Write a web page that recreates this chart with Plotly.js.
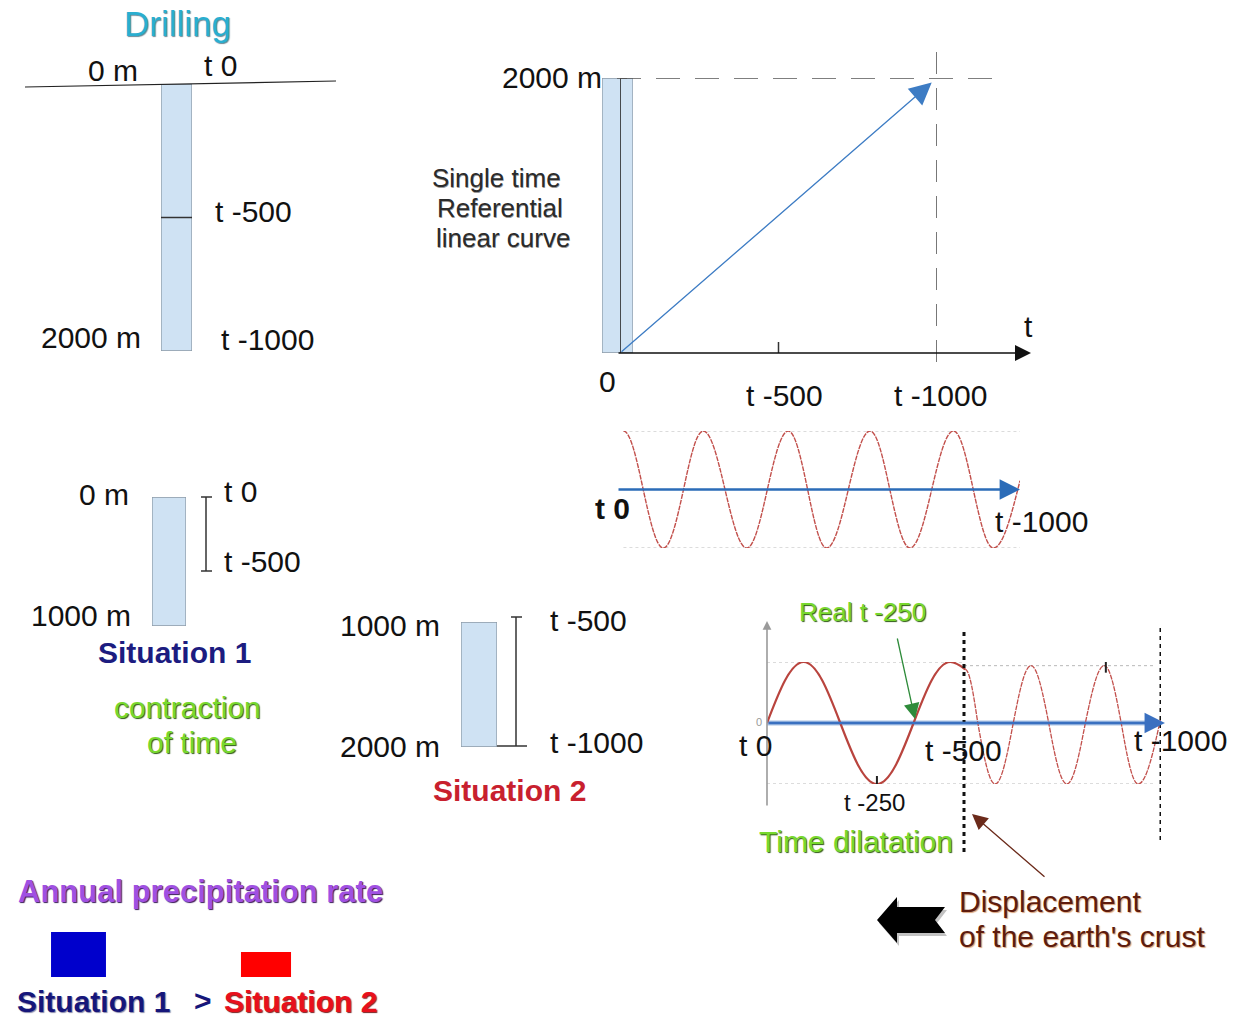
<!DOCTYPE html>
<html><head><meta charset="utf-8">
<script src="https://cdn.plot.ly/plotly-3.0.1.min.js"></script>
<style>body{margin:0;background:#fff}#chart{width:1236px;height:1018px}</style>
</head><body><div id="chart"></div>
<script>
// ---------------- DATA ----------------
// Drilling core (top-left): depth (m) and matching time marks
const drillDepths = [0, 1000, 2000];
const drillTimes  = ['t 0', 't -500', 't -1000'];
// Single time referential (top-right): time axis ticks and depth reached
const refTimes  = [0, 500, 1000];
const refTimeLabels = ['0', 't -500', 't -1000'];
const refDepthMax = 2000;
// Regular precipitation wave (middle-right): extrema / zero crossings
const waveC_t = [16, 65, 115, 165, 214, 268, 322, 373, 425, 473, 520, 574, 628, 677, 727, 781, 835, 884, 934, 1000];
const waveC_v = [1, 0, -1, 0, 1, 0, -1, 0, 1, 0, -1, 0, 1, 0, -1, 0, 1, 0, -1, 0.15];
// Dilated wave (bottom-right): first half (t0..t-500) and second half (t-500..t-1000)
const waveD1_t = [0, 93, 186, 279, 372, 465, 503];
const waveD1_v = [0, 1, 0, -1, 0, 1, 0.88];
const waveD2_t = [503, 535, 579, 625, 670, 715, 761, 808, 856, 899, 942, 1000];
const waveD2_v = [0.88, 0, -1, 0, 0.94, 0, -1, 0, 0.94, 0, -1, 0.1];
const waveD_ticks = [279, 860];
// Situations
const sit1Depth = [0, 1000];  const sit1Times = ['t 0', 't -500'];
const sit2Depth = [1000, 2000]; const sit2Times = ['t -500', 't -1000'];
// Annual precipitation rate (relative)
const precipCats = ['Situation 1', 'Situation 2'];
const precipRate = [45, 25];

// ---------------- HELPERS ----------------
const W = 1236, H = 1018;
const PX = x => x / W, PY = y => 1 - y / H;
const FONT = 'Liberation Sans, Arial, sans-serif';
const FILL = '#cfe2f3', EDGE = '#8d9ba8';

const layout = {
  width: W, height: H, margin: {l: 0, r: 0, t: 0, b: 0},
  paper_bgcolor: '#fff', plot_bgcolor: 'rgba(0,0,0,0)', showlegend: false,
  shapes: [], annotations: []
};
function axes(n, pxX, rX, pxY, rY, anchorY) {
  const xs = n === 1 ? 'xaxis' : 'xaxis' + n, ys = n === 1 ? 'yaxis' : 'yaxis' + n;
  const yid = anchorY || (n === 1 ? 'y' : 'y' + n);
  layout[xs] = {domain: [PX(pxX[0]), PX(pxX[1])], range: rX, visible: false, fixedrange: true, anchor: yid};
  if (Array.isArray(pxY)) layout[ys] = {domain: [PY(pxY[0]), PY(pxY[1])], range: rY, visible: false, fixedrange: true, anchor: n === 1 ? 'x' : 'x' + n};
}
axes(1, [161, 192], [0, 1], [351, 84], [drillDepths[2], drillDepths[0]]);
axes(2, [620, 937], [refTimes[0], refTimes[2]], [353, 78], [0, refDepthMax]);
axes(3, [617, 1020], [0, 1000], [548, 431], [-1, 1]);
axes(4, [767, 1161], [0, 1000], [784, 662], [-1, 1]);
axes(5, [152, 186], [0, 1], [626, 497], [sit1Depth[1], sit1Depth[0]]);
axes(6, [461, 497], [0, 1], [747, 622], [sit2Depth[1], sit2Depth[0]]);
axes(7, [22.25, 322.25], [-0.3, 1.3], [977, 927], [0, 50]);
axes(8, [602, 633], [0, 1], null, null, 'y2');

function line(o) { layout.shapes.push(Object.assign({type: 'line', layer: 'above'}, o)); }
function pline(x0, y0, x1, y1, color, width, dash) {
  line({xref: 'paper', yref: 'paper', x0: PX(x0), y0: PY(y0), x1: PX(x1), y1: PY(y1),
        line: {color: color, width: width, dash: dash || 'solid'}});
}
function txt(text, x, y, size, color, anchor, extra) {
  layout.annotations.push(Object.assign({
    text: text, xref: 'paper', yref: 'paper', x: PX(x), y: PY(y), xanchor: anchor || 'center', yanchor: 'middle',
    showarrow: false, font: {family: FONT, size: size, color: color}
  }, extra || {}));
}
function arrow(o) {
  layout.annotations.push(Object.assign({text: '', showarrow: true, arrowhead: 2}, o));
}
// smooth wave through extrema / zero crossings (cubic Bezier handles of a sine quarter)
function wavePath(ts, vs) {
  let d = 'M' + ts[0] + ',' + vs[0];
  for (let i = 1; i < ts.length; i++) {
    const t0 = ts[i - 1], v0 = vs[i - 1], t1 = ts[i], v1 = vs[i], dt = t1 - t0, dv = v1 - v0;
    let c1, c2;
    if (Math.abs(v0) < Math.abs(v1)) { c1 = [t0 + 0.326 * dt, v0 + 0.5122 * dv]; c2 = [t0 + 0.640 * dt, v1]; }
    else { c1 = [t0 + 0.360 * dt, v0]; c2 = [t0 + 0.674 * dt, v0 + 0.4878 * dv]; }
    d += ' C' + c1.join(',') + ' ' + c2.join(',') + ' ' + t1 + ',' + v1;
  }
  return d;
}
function wave(xa, ya, ts, vs, style) {
  layout.shapes.push({type: 'path', xref: xa, yref: ya, path: wavePath(ts, vs), line: style, fillcolor: 'rgba(0,0,0,0)', layer: 'above'});
}

const traces = [];
function column(xa, ya, d0, d1) {
  traces.push({type: 'bar', x: [0.5], y: [d1 - d0], base: [d0], width: [1], xaxis: xa, yaxis: ya,
    marker: {color: FILL, line: {color: EDGE, width: 1.3}}, hoverinfo: 'skip'});
}

// ---------------- DRILLING (top-left) ----------------
column('x', 'y', drillDepths[0], drillDepths[2]);
pline(25, 87, 336, 81, '#222', 1.2);
line({xref: 'x', yref: 'y', x0: 0, x1: 1, y0: drillDepths[1], y1: drillDepths[1], line: {color: '#333', width: 1.5}});
txt('Drilling', 177, 23, 35, '#2aaed0', 'center', {font: {family: FONT, size: 35, color: '#2aaed0', shadow: '1px 1px 1px #6a8a98'}});
txt('0 m', 113, 70, 30, '#111');
txt(drillTimes[0], 220, 65, 30, '#111');
txt(drillTimes[1], 213, 211, 30, '#111', 'left');
txt(drillDepths[2] + ' m', 143, 337, 30, '#111', 'right');
txt(drillTimes[2], 219, 340, 30, '#111', 'left');

// ---------------- SINGLE TIME REFERENTIAL (top-right) ----------------
column('x8', 'y2', 0, refDepthMax);
line({xref: 'x2', yref: 'y2', x0: refTimes[0], x1: refTimes[0], y0: 0, y1: refDepthMax, line: {color: '#222', width: 1.6}});
line({xref: 'x2', yref: 'y2', xsizemode: 'pixel', xanchor: refTimes[0], x0: -8, x1: 7, y0: refDepthMax, y1: refDepthMax, line: {color: '#333', width: 1.5}});
// dashed guides
line({xref: 'paper', yref: 'y2', x0: PX(617), x1: PX(1000), y0: refDepthMax, y1: refDepthMax, line: {color: '#555', width: 1.6, dash: '24px,15px'}});
line({xref: 'x2', yref: 'paper', x0: refTimes[2], x1: refTimes[2], y0: PY(362), y1: PY(52), line: {color: '#555', width: 1.6, dash: '22px,14px'}});
// tick at t -500
line({xref: 'x2', yref: 'y2', ysizemode: 'pixel', yanchor: 0, y0: -10, y1: 11, x0: refTimes[1], x1: refTimes[1], line: {color: '#333', width: 1.5}});
// time axis arrow
arrow({xref: 'paper', yref: 'y2', x: PX(1031), y: 0, ax: -414, ay: 0, arrowcolor: '#111', arrowwidth: 1.6, arrowsize: 2});
// linear curve arrow
arrow({xref: 'x2', yref: 'y2', x: refTimes[2], y: refDepthMax, axref: 'x2', ayref: 'y2', ax: refTimes[0], ay: 0,
  arrowcolor: '#3d7cc4', arrowwidth: 1.3, arrowsize: 3.4, standoff: 7});
txt(refDepthMax + ' m', 604, 78, 30, '#111', 'right');
txt(refTimeLabels[0], 607, 381, 30, '#111');
txt(refTimeLabels[1], 784, 395, 30, '#111');
txt(refTimeLabels[2], 940, 395, 30, '#111');
txt('t', 1028, 326, 30, '#111');
const narrow = {font: {family: FONT, size: 26, color: '#2b2b2b', shadow: '0.5px 0.5px 0.5px #999'}};
txt('Single time', 496, 178, 26, '#2b2b2b', 'center', narrow);
txt('Referential', 500, 208, 26, '#2b2b2b', 'center', narrow);
txt('linear curve', 503, 238, 26, '#2b2b2b', 'center', narrow);

// ---------------- REGULAR WAVE (middle-right) ----------------
[1, -1].forEach(v => line({xref: 'x3', yref: 'y3', x0: waveC_t[0], x1: waveC_t[waveC_t.length - 1], y0: v, y1: v,
  line: {color: '#b8b8b8', width: 1, dash: 'dot'}, layer: 'below'}));
wave('x3', 'y3', waveC_t, waveC_v, {color: '#c2504c', width: 1.4, dash: '5px,1px'});
arrow({xref: 'x3', yref: 'y3', x: 1000, y: 0, axref: 'x3', ayref: 'y3', ax: 0, ay: 0,
  arrowcolor: '#2b6cb8', arrowwidth: 2.4, arrowsize: 1.7});
txt('<b>t 0</b>', 612, 508, 30, '#111');
txt('t -1000', 993, 521, 30, '#111', 'left');

// ---------------- SITUATION 1 ----------------
column('x5', 'y5', sit1Depth[0], sit1Depth[1]);
pline(206, 497, 206, 571, '#333', 1.5);
pline(201, 497, 212, 497, '#333', 1.5);
pline(201, 571, 212, 571, '#333', 1.5);
txt(sit1Depth[0] + ' m', 131, 494, 30, '#111', 'right');
txt(sit1Depth[1] + ' m', 133, 615, 30, '#111', 'right');
txt(sit1Times[0], 222, 491, 30, '#111', 'left');
txt(sit1Times[1], 222, 561, 30, '#111', 'left');
txt('<b>Situation 1</b>', 174, 652, 30, '#1c1c80');
const greenFont = {font: {family: FONT, size: 30, color: '#78d82e', shadow: '1px 1px 1px #2d5a12'}};
txt('contraction', 187, 707, 30, '#78d82e', 'center', greenFont);
txt('of time', 192, 742, 30, '#78d82e', 'center', greenFont);

// ---------------- SITUATION 2 ----------------
column('x6', 'y6', sit2Depth[0], sit2Depth[1]);
pline(516, 617, 516, 746, '#333', 1.5);
pline(511, 617, 522, 617, '#333', 1.5);
pline(497, 746, 527, 746, '#333', 1.5);
txt(sit2Depth[0] + ' m', 442, 625, 30, '#111', 'right');
txt(sit2Depth[1] + ' m', 442, 746, 30, '#111', 'right');
txt(sit2Times[0], 548, 620, 30, '#111', 'left');
txt(sit2Times[1], 548, 742, 30, '#111', 'left');
txt('<b>Situation 2</b>', 509, 790, 30, '#c8202e');

// ---------------- DILATED WAVE (bottom-right) ----------------
[1, -1].forEach(v => line({xref: 'x4', yref: 'y4', x0: 0, x1: 500, y0: v, y1: v,
  line: {color: '#b8b8b8', width: 1, dash: 'dot'}, layer: 'below'}));
[0.94, -1].forEach(v => line({xref: 'x4', yref: 'y4', x0: 500, x1: 980, y0: v, y1: v,
  line: {color: '#b8b8b8', width: 1, dash: 'dot'}, layer: 'below'}));
arrow({xref: 'paper', yref: 'paper', x: PX(767), y: PY(621), ax: 0, ay: 186, arrowcolor: '#9a9a9a', arrowwidth: 1.6, arrowsize: 1.1});
line({xref: 'x4', yref: 'y4', x0: 0, x1: 1000, y0: 0, y1: 0, line: {color: '#a9c2e4', width: 5}});
wave('x4', 'y4', waveD1_t, waveD1_v, {color: '#b9443e', width: 2.2});
wave('x4', 'y4', waveD2_t, waveD2_v, {color: '#c2504c', width: 1.3, dash: '5px,1px'});
arrow({xref: 'x4', yref: 'y4', x: 1010, y: 0, axref: 'x4', ayref: 'y4', ax: 0, ay: 0,
  arrowcolor: '#3a70c0', arrowwidth: 2.4, arrowsize: 1.7});
waveD_ticks.forEach((t, i) => line({xref: 'x4', yref: 'y4', x0: t, x1: t, ysizemode: 'pixel', yanchor: i ? 0.94 : -1,
  y0: -7, y1: 8, line: {color: '#222', width: 2}}));
line({xref: 'x4', yref: 'paper', x0: 500, x1: 500, y0: PY(852), y1: PY(628), line: {color: '#111', width: 3, dash: '4px,4px'}});
line({xref: 'x4', yref: 'paper', x0: 1000, x1: 1000, y0: PY(840), y1: PY(627), line: {color: '#111', width: 3, dash: '4px,4px'}});
arrow({xref: 'paper', yref: 'paper', x: PX(915), y: PY(719), ax: -18, ay: -82, arrowcolor: '#2e8b3a', arrowwidth: 1.3, arrowsize: 2.4});
arrow({xref: 'paper', yref: 'paper', x: PX(972), y: PY(814), ax: 74, ay: 64, arrowcolor: '#6b2a1a', arrowwidth: 1.3, arrowsize: 2.4});
txt('0', 759, 722, 11, '#999');
txt('Real t -250', 863, 612, 26, '#78d82e', 'center', {font: {family: FONT, size: 26, color: '#78d82e', shadow: '1px 1px 1px #2d5a12'}});
txt('t 0', 755, 745, 30, '#111');
txt('t -500', 963, 750, 30, '#111');
txt('t -1000', 1132, 740, 30, '#111', 'left');
txt('t -250', 874, 802, 24, '#111');
txt('Time dilatation', 856, 841, 30, '#78d82e', 'center', greenFont);

// ---------------- PRECIPITATION ----------------
traces.push({type: 'bar', x: [0, 1], y: precipRate, width: [0.293, 0.267], xaxis: 'x7', yaxis: 'y7',
  marker: {color: ['#0000cc', '#ff0000']}, hoverinfo: 'skip'});
txt('<b>Annual precipitation rate</b>', 200, 891, 31, '#a050e2', 'center',
  {font: {family: FONT, size: 31, color: '#a050e2', shadow: '1px 1px 1px #3a1a5a'}});
txt('<b>' + precipCats[0] + '</b>', 15, 1001, 30, '#16167a', 'left', {font: {family: FONT, size: 30, color: '#16167a', shadow: '1px 1px 1px #8888aa'}});
txt('<b>&gt;</b>', 203, 1000, 30, '#16167a');
txt('<b>' + precipCats[1] + '</b>', 222, 1001, 30, '#e8101c', 'left', {font: {family: FONT, size: 30, color: '#e8101c', shadow: '1px 1px 1px #7a2020'}});

// ---------------- DISPLACEMENT ARROW ----------------
function pathOf(pts, dx, dy) {
  return pts.map((p, i) => (i ? 'L' : 'M') + PX(p[0] + dx).toFixed(5) + ',' + PY(p[1] + dy).toFixed(5)).join(' ') + ' Z';
}
const bigArrow = [[877, 920], [897, 897], [897, 907], [945, 907], [935, 920], [945, 933], [897, 933], [897, 943]];
layout.shapes.push({type: 'path', xref: 'paper', yref: 'paper', path: pathOf(bigArrow, 2, 3), fillcolor: '#999', line: {width: 0}, opacity: 0.6});
layout.shapes.push({type: 'path', xref: 'paper', yref: 'paper', path: pathOf(bigArrow, 0, 0), fillcolor: '#000', line: {width: 0}});
const brown = {font: {family: FONT, size: 30, color: '#5e1c0e', shadow: '1px 1px 1px #d9a27a'}};
txt('Displacement', 957, 901, 30, '#5e1c0e', 'left', brown);
txt("of the earth's crust", 957, 936, 30, '#5e1c0e', 'left', brown);

Plotly.newPlot('chart', traces, layout, {staticPlot: true, displayModeBar: false});
</script></body></html>
